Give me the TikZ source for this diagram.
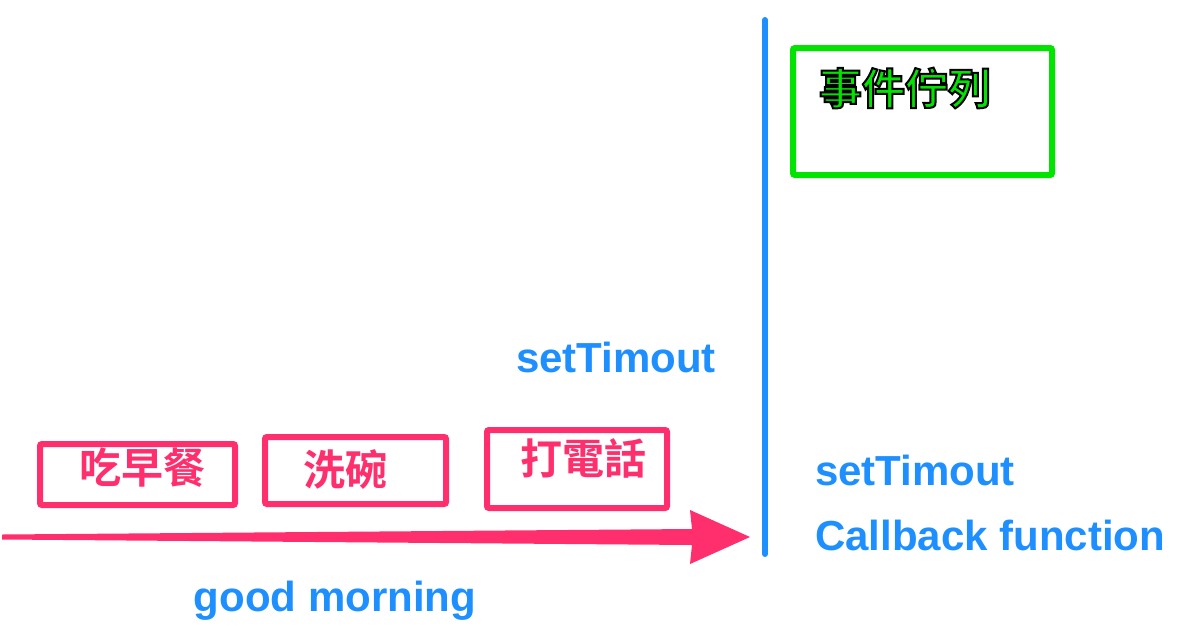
\documentclass[tikz,border=0pt]{standalone}
\usepackage{fontspec}
\setmainfont{Liberation Sans}
\newfontfamily\cjk{Noto Sans CJK TC}[BoldFont={Noto Sans CJK TC Bold}]
\usetikzlibrary{calc}
\definecolor{taskpink}{HTML}{FF2E6C}
\definecolor{jsblue}{HTML}{1E8FFF}
\definecolor{queuegreen}{HTML}{00E400}
\newcommand{\outlined}[1]{\special{pdf:literal direct 0 0 0 RG 2 Tr 2 w}#1\special{pdf:literal direct 0 Tr}}
\tikzset{every node/.append style={inner sep=0pt, outer sep=0pt}}
\tikzset{
  taskbox/.style={draw=taskpink, line width=6pt, rounded corners=2pt},
  tasktext/.style={text=taskpink, font=\cjk\bfseries\fontsize{42}{42}\selectfont},
  codetext/.style={text=jsblue, font=\bfseries\fontsize{42}{42}\selectfont},
  queuetext/.style={text=queuegreen, font=\cjk\bfseries\fontsize{43}{43}\selectfont}
}

\begin{document}
\begin{tikzpicture}[x=1pt, y=-1pt]
    \useasboundingbox (0,0) rectangle (1186,638);

    \node[taskbox, minimum width=195pt, minimum height=61pt] (breakfast) at (137.5,474.5) {};
    \node[taskbox, minimum width=181pt, minimum height=67pt] (dishes) at (355.5,470.5) {};
    \node[taskbox, minimum width=180pt, minimum height=78pt] (phone) at (577,469) {};
    \node[tasktext] (breakfasttext) at (142,468) {吃早餐};
    \node[tasktext] (dishestext) at (345,470) {洗碗};
    \node[tasktext] (phonetext) at (583,458) {打電話};

    \node[draw=queuegreen, line width=6pt, rounded corners=2pt,
          minimum width=259pt, minimum height=127pt] (queue) at (922.5,111.5) {};
    \node[queuetext] (queuetitle) at (905,88) {\outlined{事件佇列}};

    \coordinate (linetop) at (765,20);
    \coordinate (linebottom) at (765,554);
    \draw[jsblue, line width=6pt, line cap=round] (linetop) -- (linebottom);

    \coordinate (start) at (2,537);
    \coordinate (tip) at (750,537);
    \fill[taskpink]
      ($(start)+(0,-2.5)$) -- ($(tip)+(-58,-8)$) -- ($(tip)+(-60,-27)$) -- (tip)
      -- ($(tip)+(-60,27)$) -- ($(tip)+(-58,8)$) -- ($(start)+(0,2.5)$) -- cycle;

    \node[codetext] (timeout) at (616,357) {setTimout};
    \node[codetext, anchor=west] (callbacktimeout) at (815,470) {setTimout};
    \node[codetext, anchor=west] (callback) at (815,535) {Callback function};
    \node[codetext] (morning) at (335,601) {good morning};
\end{tikzpicture}
\end{document}
